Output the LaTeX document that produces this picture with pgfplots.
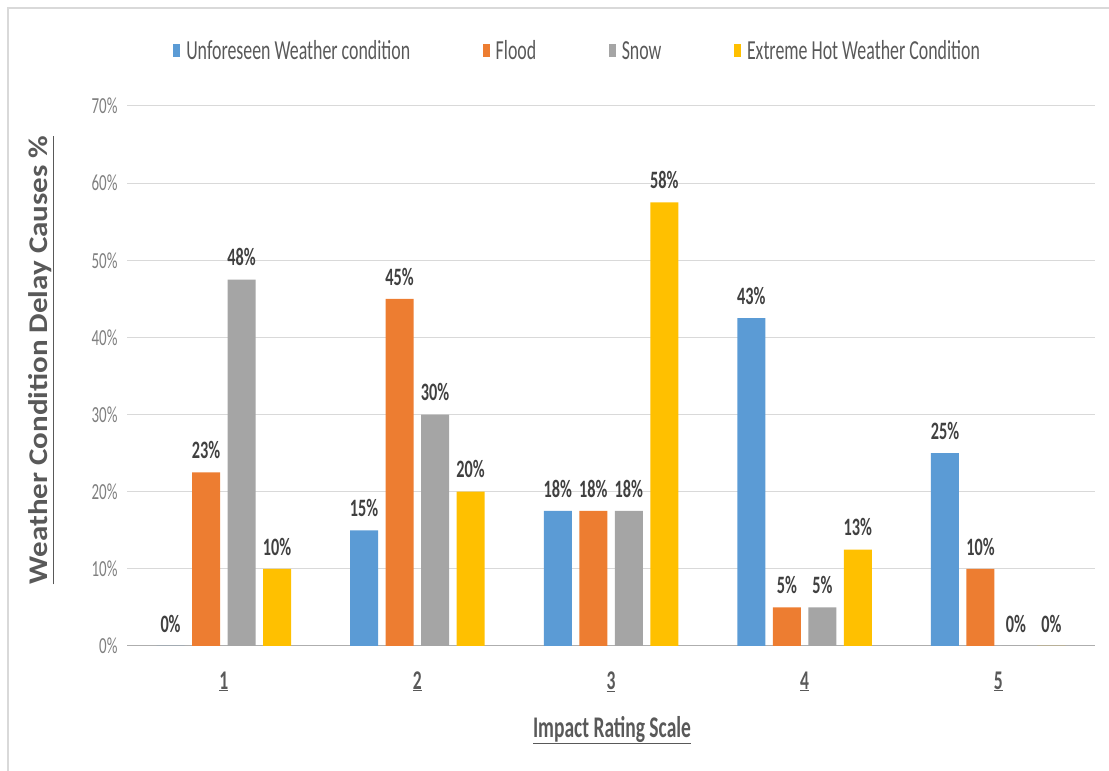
\documentclass[border=0pt]{standalone}
\usepackage{pgfplots}
\pgfplotsset{compat=1.18}
\usepackage{fontspec}
\setmainfont{Carlito}[FakeStretch=0.65]
\newfontfamily\titlefont{Carlito}
\definecolor{cBlue}{HTML}{5B9BD5}
\definecolor{cOrange}{HTML}{ED7D31}
\definecolor{cGray}{HTML}{A5A5A5}
\definecolor{cYellow}{HTML}{FFC000}
\definecolor{txt}{HTML}{595959}
\definecolor{lbl}{HTML}{404040}
\definecolor{tickc}{HTML}{7F7F7F}
\definecolor{gridc}{HTML}{D9D9D9}
\begin{document}
\begin{tikzpicture}
\path[use as bounding box] (0,0) rectangle (1109pt,771pt);
\draw[gridc, line width=1.5pt] (8pt,0pt) -- (8pt,763pt) -- (1109pt,763pt);
\begin{axis}[
  at={(127pt,125pt)}, anchor=south west,
  scale only axis, width=968pt, height=540pt,
  xmin=0.5, xmax=5.5, ymin=0, ymax=70,
  ybar=7.5pt, bar width=28pt,
  axis x line*=bottom, axis y line*=left,
  x axis line style={draw=gridc!80!black, line width=1pt},
  y axis line style={draw=none},
  major tick length=0pt,
  xtick={1,2,3,4,5},
  xticklabels={\underline{1},\underline{2},\underline{3},\underline{4},\underline{5}},
  xticklabel style={font=\bfseries\fontsize{27}{32}\selectfont, text=txt, yshift=-22pt},
  ytick={0,10,20,30,40,50,60,70},
  yticklabels={0\%,10\%,20\%,30\%,40\%,50\%,60\%,70\%},
  yticklabel style={font=\fontsize{23}{27}\selectfont, text=tickc, xshift=-6pt},
  ymajorgrids, grid style={gridc, line width=1pt},
  point meta=explicit symbolic,
  nodes near coords,
  nodes near coords style={font=\bfseries\fontsize{25}{30}\selectfont, text=lbl, yshift=10pt},
  legend columns=4,
  legend style={at={(0.0445,1.1019)}, anchor=west, draw=none, fill=none,
    font=\fontsize{27.5}{32}\selectfont, text=txt,
    /tikz/every odd column/.append style={column sep=4pt},
    /tikz/every even column/.append style={column sep=70.5pt}},
  legend image code/.code={\fill[#1] (0pt,-6.5pt) rectangle (7pt,6.5pt);},
  clip=false,
]
\addplot[fill=cBlue, draw=none] coordinates {(1,0) [0\%] (2,15) [15\%] (3,17.5) [18\%] (4,42.5) [43\%] (5,25) [25\%]};
\addplot[fill=cOrange, draw=none] coordinates {(1,22.5) [23\%] (2,45) [45\%] (3,17.5) [18\%] (4,5) [5\%] (5,10) [10\%]};
\addplot[fill=cGray, draw=none] coordinates {(1,47.5) [48\%] (2,30) [30\%] (3,17.5) [18\%] (4,5) [5\%] (5,0) [0\%]};
\addplot[fill=cYellow, draw=none] coordinates {(1,10) [10\%] (2,20) [20\%] (3,57.5) [58\%] (4,12.5) [13\%] (5,0) [0\%]};
\legend{Unforeseen Weather condition, Flood, Snow, Extreme Hot Weather Condition}
\end{axis}
\node[text=txt, font=\bfseries\fontsize{30}{36}\selectfont] at (612pt,41pt) {\underline{Impact Rating Scale}};
\node[text=txt] at (41pt,411pt) {\rotatebox{90}{\scalebox{1}[0.87]{\titlefont\bfseries\fontsize{31}{36}\selectfont\underline{Weather Condition Delay Causes \%}}}};
\end{tikzpicture}
\end{document}
